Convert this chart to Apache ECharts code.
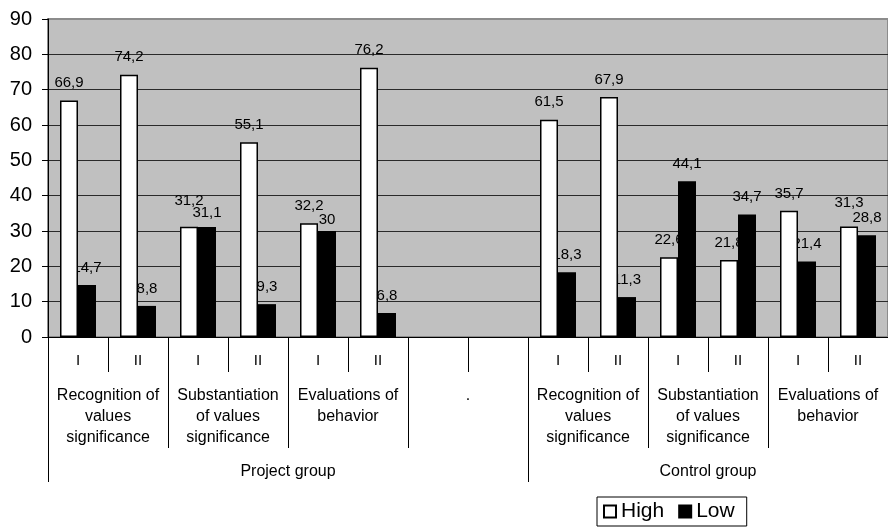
<!DOCTYPE html>
<html>
<head>
<meta charset="utf-8">
<script src="https://cdn.jsdelivr.net/npm/echarts@6/dist/echarts.min.js"></script>
<style>
  html, body { margin: 0; padding: 0; background: #fff; }
  #chart { width: 888px; height: 528px; }
</style>
</head>
<body>
<div id="chart"></div>
<script>
// Measurement stage within each indicator (two empty slots separate the groups)
const phases = ['I', 'II', 'I', 'II', 'I', 'II', '', '', 'I', 'II', 'I', 'II', 'I', 'II'];
// Indicators, two stages each
const indicators = [
  'Recognition of\nvalues\nsignificance',
  'Substantiation\nof values\nsignificance',
  'Evaluations of\nbehavior',
  '.',
  'Recognition of\nvalues\nsignificance',
  'Substantiation\nof values\nsignificance',
  'Evaluations of\nbehavior'
];
// Top-level groups and how many stage slots each covers
const groups = ['Project group', 'Control group'];
const groupSpans = [8, 6];

// Share of respondents (%) at high and low level
const highValues = [66.9, 74.2, 31.2, 55.1, 32.2, 76.2, null, null, 61.5, 67.9, 22.6, 21.8, 35.7, 31.3];
const lowValues  = [14.7, 8.8, 31.1, 9.3, 30, 6.8, null, null, 18.3, 11.3, 44.1, 34.7, 21.4, 28.8];

// Value axis ticks
const yMin = 0, yMax = 90, yStep = 10;

// A few value labels are nudged vertically (px) so neighbours do not collide
const highLabelNudge = { 2: -8, 13: -6 };
const lowLabelNudge = { 2: 3, 4: 6 };

// Group boundaries and centres in slot units
const groupEdges = [0];
groupSpans.forEach(s => groupEdges.push(groupEdges[groupEdges.length - 1] + s));
const groupCentres = groups.map((g, i) => (groupEdges[i] + groupEdges[i + 1]) / 2);

const FONT = '"Liberation Sans", Arial, Helvetica, sans-serif';
const fmt = v => (v == null ? '' : String(v).replace('.', ','));

const labelled = (values, nudge) => values.map((v, i) =>
  nudge[i] ? { value: v, label: { offset: [0, nudge[i]] } } : v);

const chart = echarts.init(document.getElementById('chart'), null, { renderer: 'canvas' });

const barShape = { barGap: '0%', barCategoryGap: '40%' };
const valueLabel = {
  show: true, position: 'top', distance: 10, fontSize: 15, color: '#000', fontFamily: FONT,
  formatter: p => fmt(p.value)
};

chart.setOption({
  animation: false,
  backgroundColor: '#fff',
  textStyle: { fontFamily: FONT },
  grid: {
    left: 48, top: 19, width: 846, bottom: 191,
    show: true, backgroundColor: '#c0c0c0',
    borderColor: '#8c8c8c', borderWidth: 2
  },
  legend: {
    data: [
      { name: 'High' },
      { name: 'Low', itemStyle: { borderColor: '#000', borderWidth: 2 } }
    ],
    left: 597, top: 497,
    padding: [4, 12, 4, 6],
    itemWidth: 12, itemHeight: 12, itemGap: 14,
    icon: 'rect',
    borderColor: '#000', borderWidth: 1,
    backgroundColor: '#fff',
    textStyle: { fontSize: 21, color: '#000', fontFamily: FONT }
  },
  xAxis: [
    {
      // stage level: I / II
      type: 'category', data: phases, position: 'bottom',
      axisLine: { show: true, lineStyle: { color: '#000', width: 1 } },
      axisTick: { show: true, interval: 0, length: 35, lineStyle: { color: '#000' } },
      axisLabel: { interval: 0, margin: 15, fontSize: 15, lineHeight: 18, color: '#000', fontFamily: FONT },
      splitLine: { show: false }
    },
    {
      // indicator level
      type: 'category', data: indicators, position: 'bottom',
      axisLine: { show: false },
      axisTick: { show: true, interval: 0, length: 111, lineStyle: { color: '#000' } },
      axisLabel: { interval: 0, margin: 48, fontSize: 16, lineHeight: 21, color: '#000', fontFamily: FONT },
      splitLine: { show: false }
    },
    {
      // group level
      type: 'value', min: 0, max: phases.length, position: 'bottom',
      axisLine: { show: false },
      axisTick: { show: true, length: 145, customValues: groupEdges, lineStyle: { color: '#000' } },
      axisLabel: {
        margin: 126, fontSize: 16, lineHeight: 18, color: '#000', fontFamily: FONT,
        customValues: groupCentres,
        formatter: v => groups[groupCentres.indexOf(v)] || ''
      },
      splitLine: { show: false }
    },
    {
      // hidden twin of the stage axis, carries the value labels
      type: 'category', data: phases, position: 'bottom', show: false
    }
  ],
  yAxis: {
    type: 'value', min: yMin, max: yMax, interval: yStep,
    axisLine: { show: true, lineStyle: { color: '#000', width: 1 } },
    axisTick: { show: true, length: 6, lineStyle: { color: '#000' } },
    axisLabel: { margin: 16, fontSize: 20, color: '#000', fontFamily: FONT },
    splitLine: { show: true, showMaxLine: false, lineStyle: { color: '#2a2a2a', width: 1 } }
  },
  series: [
    Object.assign({
      name: 'High', type: 'bar', xAxisIndex: 0, data: highValues, z: 3,
      itemStyle: { color: '#fff', borderColor: '#000', borderWidth: 1.5 },
      emphasis: { disabled: true }
    }, barShape),
    Object.assign({
      name: 'Low', type: 'bar', xAxisIndex: 0, data: lowValues, z: 3,
      itemStyle: { color: '#000' },
      emphasis: { disabled: true }
    }, barShape),
    // value labels sit underneath all bars
    Object.assign({
      name: 'High value', type: 'bar', xAxisIndex: 3, data: labelled(highValues, highLabelNudge),
      z: 1, silent: true,
      itemStyle: { color: 'rgba(0,0,0,0)' },
      label: valueLabel,
      emphasis: { disabled: true }
    }, barShape),
    Object.assign({
      name: 'Low value', type: 'bar', xAxisIndex: 3, data: labelled(lowValues, lowLabelNudge),
      z: 1, silent: true,
      itemStyle: { color: 'rgba(0,0,0,0)' },
      label: valueLabel,
      emphasis: { disabled: true }
    }, barShape)
  ]
});
</script>
</body>
</html>
